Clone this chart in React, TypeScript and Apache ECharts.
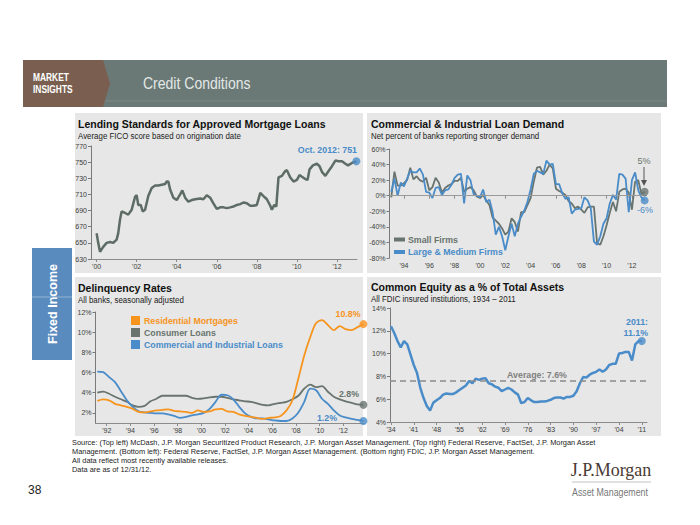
import React, { useEffect, useRef } from 'react';
import * as echarts from 'echarts';

// ---------- Data ----------
// Lending standards: average FICO score (decimal year, score)
const ficoYears = [2000.0, 2000.08, 2000.17, 2000.33, 2000.5, 2000.67, 2000.83, 2001.0, 2001.08, 2001.17, 2001.25, 2001.42, 2001.58, 2001.75, 2001.92, 2002.0, 2002.08, 2002.2, 2002.3, 2002.42, 2002.58, 2002.75, 2002.92, 2003.08, 2003.25, 2003.42, 2003.5, 2003.58, 2003.67, 2003.83, 2004.0, 2004.17, 2004.28, 2004.42, 2004.58, 2004.75, 2004.92, 2005.17, 2005.33, 2005.5, 2005.67, 2005.83, 2006.0, 2006.17, 2006.33, 2006.5, 2006.67, 2006.83, 2007.0, 2007.17, 2007.33, 2007.5, 2007.67, 2007.83, 2008.0, 2008.17, 2008.33, 2008.5, 2008.67, 2008.75, 2008.87, 2008.97, 2009.08, 2009.25, 2009.42, 2009.5, 2009.67, 2009.83, 2010.0, 2010.13, 2010.25, 2010.42, 2010.53, 2010.63, 2010.8, 2011.0, 2011.13, 2011.25, 2011.42, 2011.58, 2011.75, 2011.92, 2012.08, 2012.25, 2012.42, 2012.55, 2012.75, 2012.97];
const ficoScores = [662, 650, 639, 645, 650, 651, 650, 654, 662, 679, 689, 687, 685, 691, 707, 709, 697, 697, 689, 691, 708, 718, 721, 721, 722, 723, 726, 726, 716, 706, 703, 710, 715, 706, 701, 703, 704, 705, 704, 709, 706, 699, 692, 694, 694, 693, 694, 695, 697, 698, 700, 699, 696, 696, 697, 712, 708, 704, 696, 691, 697, 695, 731, 733, 739, 740, 731, 726, 728, 734, 732, 729, 728, 741, 746, 748, 745, 738, 733, 739, 745, 752, 751, 751, 748, 746, 749, 751];
const ficoTicks = [2000, 2002, 2004, 2006, 2008, 2010, 2012];

// C&I loan demand, quarterly from cniStart
const cniStart = 1993.0;
const cniSmall = [-2, 31, 13, 13, 16, 20, 36, 21, 25, 20, 18, 23, 7, 11, 23, 17, 4, 10, 13, 15, 19, 19, 23, 5, 9, 11, 7, -1, -3, 1, -6, -12, -28, -32, -36, -42, -50, -46, -29, -34, -46, -21, -21, -12, -3, 18, 36, 37, 27, 32, 40, 35, 9, 6, 4, 1, -7, -10, -16, -14, -18, -22, -15, -14, -14, -61, -63, -52, -38, -22, -8, -20, 5, 8, 9, 4, -18, 18, 20, 2, 5];
const cniLarge = [5, 22, 0, 17, 12, 22, 32, 30, 30, 35, 27, 5, 4, -3, 10, 11, 1, 7, 8, 14, 23, 27, 28, -10, 26, 20, 2, 0, -2, 8, -8, -5, -21, -50, -40, -52, -70, -52, -36, -52, -36, -27, -19, -8, 8, 28, 32, 30, 28, 45, 40, 41, 15, 15, 3, -4, -2, -23, -18, -17, -16, -2, -6, -16, -59, -63, -52, -36, -29, -10, 1, -5, 28, 27, 22, -21, 20, 30, 7, -2, -6];
const cniTicks = [1994, 1996, 1998, 2000, 2002, 2004, 2006, 2008, 2010, 2012];

// Delinquency rates, semiannual from delStart
const delStart = 1991.2;
const delResidential = [3.2, 3.35, 3.25, 2.9, 2.75, 2.6, 2.4, 2.1, 2.05, 2.15, 2.25, 2.3, 2.35, 2.2, 2.15, 2.1, 2.0, 2.25, 2.1, 2.15, 2.35, 2.4, 2.15, 2.1, 1.85, 1.7, 1.6, 1.5, 1.4, 1.5, 1.55, 1.7, 2.25, 3.25, 5.4, 7.7, 9.5, 10.9, 11.2, 10.7, 10.2, 10.6, 10.3, 10.2, 10.5, 10.8];
const delConsumer = [4.0, 4.1, 3.9, 3.6, 3.35, 3.1, 2.75, 2.6, 2.7, 3.15, 3.4, 3.7, 3.7, 3.7, 3.7, 3.7, 3.5, 3.4, 3.45, 3.55, 3.6, 3.6, 3.5, 3.35, 3.25, 3.15, 3.1, 2.95, 2.8, 2.75, 2.9, 3.0, 3.1, 3.35, 3.7, 4.4, 4.8, 4.55, 4.65, 4.1, 3.6, 3.35, 3.15, 3.0, 2.85, 2.8];
const delCommercial = [6.1, 6.05, 5.55, 5.05, 4.15, 3.25, 2.6, 2.15, 2.05, 2.0, 1.95, 1.95, 1.85, 1.7, 1.5, 1.6, 1.75, 1.85, 2.0, 2.4, 3.1, 3.8, 3.75, 3.35, 2.6, 1.95, 1.6, 1.45, 1.45, 1.35, 1.25, 1.2, 1.2, 1.45, 2.05, 3.1, 4.4, 4.25, 3.4, 2.9, 2.25, 1.75, 1.55, 1.4, 1.3, 1.2];
const delTicks = [1992, 1994, 1996, 1998, 2000, 2002, 2004, 2006, 2008, 2010, 2012];
const delYTicks = [2, 4, 6, 8, 10, 12];

// Common equity as % of total assets, annual 1934-2011
const eqStart = 1934;
const eqValues = [12.4, 11.8, 11.1, 10.55, 11.1, 10.8, 9.9, 9.0, 8.3, 7.0, 6.1, 5.4, 5.0, 5.7, 5.9, 6.1, 6.4, 6.5, 6.45, 6.45, 6.6, 6.8, 7.0, 7.2, 7.6, 7.4, 7.8, 7.7, 7.8, 7.85, 7.4, 7.3, 7.1, 7.0, 6.7, 6.85, 7.0, 6.85, 6.6, 6.4, 5.65, 5.75, 6.1, 5.9, 5.75, 5.75, 5.8, 5.8, 5.85, 5.95, 6.1, 6.15, 6.15, 6.05, 6.2, 6.2, 6.3, 6.7, 7.4, 7.95, 7.9, 8.15, 8.3, 8.4, 8.6, 8.4, 8.6, 9.0, 9.1, 9.1, 10.0, 10.05, 10.15, 10.15, 9.4, 10.8, 11.1, 11.1];
const eqAverage = 7.6;
const eqTicks = [1934, 1941, 1948, 1955, 1962, 1969, 1976, 1983, 1990, 1997, 2004, 2011];

// ---------- Styles ----------
const FONT = "'Liberation Sans', Arial, sans-serif";
const BLUE = '#4a8cc9';
const GRAY = '#69746f';
const ORANGE = '#f7941e';
const FICO = '#5e6c66';
const PANEL = '#e6e7e6';

const yr = (v: number) => "'" + String(Math.round(v) % 100).padStart(2, '0');

function xAxisCfg(gridIndex: number, min: number, max: number, ticks: number[]) {
  return {
    type: 'value', gridIndex, min, max,
    axisLine: { show: true, lineStyle: { color: '#8c8c8c', width: 1 } },
    axisTick: { show: true, length: 3, customValues: ticks, lineStyle: { color: '#8c8c8c' } },
    axisLabel: { customValues: ticks, formatter: yr, color: '#404040', fontSize: 7, fontFamily: FONT, margin: 4 },
    splitLine: { show: false },
  };
}

function yAxisCfg(gridIndex: number, min: number, max: number, interval: number, pct: boolean, custom?: number[]) {
  const lbl: any = { color: '#404040', fontSize: 7, fontFamily: FONT, margin: 4, formatter: pct ? '{value}%' : '{value}' };
  const tick: any = { show: true, length: 3, lineStyle: { color: '#7a7a7a' } };
  if (custom) { lbl.customValues = custom; tick.customValues = custom; }
  return {
    type: 'value', gridIndex, min, max, interval,
    axisLine: { show: true, lineStyle: { color: '#7a7a7a', width: 1 } },
    axisTick: tick, axisLabel: lbl, splitLine: { show: false },
  };
}

function lineSeries(name: string, xi: number, data: number[][], color: string, width: number, extra: any = {}) {
  return { name, type: 'line', xAxisIndex: xi, yAxisIndex: xi, data, showSymbol: false, symbol: 'none', smooth: false, lineStyle: { color, width }, itemStyle: { color }, z: 3, ...extra };
}

function dotSeries(xi: number, point: number[], color: string) {
  return { type: 'scatter', xAxisIndex: xi, yAxisIndex: xi, data: [point], symbolSize: 8, itemStyle: { color }, z: 5 };
}

function txt(x: number, y: number, text: string, font: string, fill: string, align = 'left', sx = 1) {
  return { type: 'text', x, y, z: 50, scaleX: sx, style: { text, font, fill, align, verticalAlign: 'middle' } };
}

export default function App() {
  const ref = useRef<HTMLDivElement>(null);
  useEffect(() => {
    if (!ref.current) return;
    const chart = echarts.init(ref.current, undefined, { renderer: 'svg' });

    const ficoData = ficoYears.map((y, i) => [y, ficoScores[i]]);
    const smallData = cniSmall.map((v, i) => [cniStart + i * 0.25, v]);
    const largeData = cniLarge.map((v, i) => [cniStart + i * 0.25, v]);
    const resData = delResidential.map((v, i) => [delStart + i * 0.5, v]);
    const conData = delConsumer.map((v, i) => [delStart + i * 0.5, v]);
    const comData = delCommercial.map((v, i) => [delStart + i * 0.5, v]);
    const eqData = eqValues.map((v, i) => [eqStart + i, v]);
    const last = (a: number[][]) => a[a.length - 1];

    const titleFont = `bold 10.5px ${FONT}`;
    const subFont = `9.3px ${FONT}`;
    const SUBX = 0.85;
    const legFont = `bold 8.8px ${FONT}`;
    const annFont = `bold 8.8px ${FONT}`;
    const footFont = `7.4px ${FONT}`;

    const graphic: any[] = [
      // header band
      { type: 'rect', z: -10, shape: { x: 23, y: 60, width: 644, height: 47 }, style: { fill: '#6b7976' } },
      { type: 'line', z: -9, shape: { x1: 23, y1: 101, x2: 667, y2: 101 }, style: { stroke: 'rgba(255,255,255,0.12)', lineWidth: 1 } },
      { type: 'polygon', z: -8, shape: { points: [[23, 60], [103, 60], [110, 83.5], [103, 107], [23, 107]] }, style: { fill: '#7a5f50' } },
      txt(33, 77, 'MARKET', `bold 10.5px ${FONT}`, '#ffffff', 'left', 0.8),
      txt(33, 89, 'INSIGHTS', `bold 10.5px ${FONT}`, '#ffffff', 'left', 0.8),
      txt(143, 83, 'Credit Conditions', `16.5px ${FONT}`, '#e2e8e6', 'left', 0.85),
      // panels
      { type: 'rect', z: -10, shape: { x: 75, y: 113, width: 288, height: 160 }, style: { fill: PANEL } },
      { type: 'rect', z: -10, shape: { x: 367, y: 113, width: 294, height: 160 }, style: { fill: PANEL } },
      { type: 'rect', z: -10, shape: { x: 75, y: 277, width: 288, height: 159 }, style: { fill: PANEL } },
      { type: 'rect', z: -10, shape: { x: 367, y: 277, width: 294, height: 159 }, style: { fill: PANEL } },
      // fixed income tab
      { type: 'rect', z: -10, shape: { x: 32, y: 248, width: 40, height: 112 }, style: { fill: '#5a8bbf' } },
      { type: 'line', z: -9, shape: { x1: 32, y1: 297, x2: 72, y2: 297 }, style: { stroke: 'rgba(255,255,255,0.35)', lineWidth: 1 } },
      { type: 'text', x: 53, y: 304, rotation: Math.PI / 2, z: 50, style: { text: 'Fixed Income', font: `bold 12.5px ${FONT}`, fill: '#ffffff', align: 'center', verticalAlign: 'middle' } },
      // titles
      txt(78, 124, 'Lending Standards for Approved Mortgage Loans', titleFont, '#111'),
      txt(78, 136, 'Average FICO score based on origination date', subFont, '#222', 'left', SUBX),
      txt(371, 124, 'Commercial & Industrial Loan Demand', titleFont, '#111'),
      txt(371, 136, 'Net percent of banks reporting stronger demand', subFont, '#222', 'left', SUBX),
      txt(78, 288, 'Delinquency Rates', titleFont, '#111'),
      txt(78, 299.5, 'All banks, seasonally adjusted', subFont, '#222', 'left', SUBX),
      txt(371, 287, 'Common Equity as a % of Total Assets', titleFont, '#111'),
      txt(371, 298.5, 'All FDIC insured institutions, 1934 \u2013 2011', subFont, '#222', 'left', SUBX),
      // top-left annotation
      txt(357, 150, 'Oct. 2012: 751', annFont, BLUE, 'right'),
      // top-right legend & annotations
      { type: 'rect', z: 50, shape: { x: 394, y: 237.5, width: 11, height: 4 }, style: { fill: GRAY } },
      txt(408, 239.5, 'Small Firms', legFont, GRAY),
      { type: 'rect', z: 50, shape: { x: 394, y: 250, width: 11, height: 4 }, style: { fill: BLUE } },
      txt(408, 252, 'Large & Medium Firms', legFont, BLUE),
      txt(644, 161, '5%', `9px ${FONT}`, GRAY, 'center'),
      { type: 'line', z: 50, shape: { x1: 644, y1: 167, x2: 644, y2: 181 }, style: { stroke: '#555', lineWidth: 1 } },
      { type: 'polygon', z: 50, shape: { points: [[641, 180], [647, 180], [644, 186]] }, style: { fill: '#555' } },
      txt(645, 210, '-6%', `9px ${FONT}`, BLUE, 'center'),
      // bottom-left legend & annotations
      { type: 'rect', z: 50, shape: { x: 131, y: 316, width: 9, height: 9 }, style: { fill: ORANGE } },
      txt(144, 321, 'Residential Mortgages', legFont, ORANGE),
      { type: 'rect', z: 50, shape: { x: 131, y: 328, width: 9, height: 9 }, style: { fill: GRAY } },
      txt(144, 333, 'Consumer Loans', legFont, GRAY),
      { type: 'rect', z: 50, shape: { x: 131, y: 340, width: 9, height: 9 }, style: { fill: BLUE } },
      txt(144, 345, 'Commercial and Industrial Loans', legFont, BLUE),
      txt(348, 314, '10.8%', annFont, ORANGE, 'center'),
      txt(349, 394, '2.8%', annFont, GRAY, 'center'),
      txt(327, 418, '1.2%', annFont, BLUE, 'center'),
      // bottom-right annotations
      txt(537, 375, 'Average: 7.6%', annFont, '#808080', 'center'),
      txt(648, 322, '2011:', annFont, BLUE, 'right'),
      txt(648, 333, '11.1%', annFont, BLUE, 'right'),
      // footer
      txt(72, 442, 'Source: (Top left) McDash, J.P. Morgan Securitized Product Research, J.P. Morgan Asset Management. (Top right) Federal Reserve, FactSet, J.P. Morgan Asset', footFont, '#222'),
      txt(72, 451, 'Management. (Bottom left): Federal Reserve, FactSet, J.P. Morgan Asset Management. (Bottom right) FDIC, J.P. Morgan Asset Management.', footFont, '#222'),
      txt(72, 460, 'All data reflect most recently available releases.', footFont, '#222'),
      txt(72, 469, 'Data are as of 12/31/12.', footFont, '#222'),
      txt(28, 490, '38', `12px ${FONT}`, '#222'),
      txt(611, 470, 'J.P.Morgan', `18px 'Liberation Serif', 'Times New Roman', serif`, '#4a3a33', 'center'),
      { type: 'line', z: 50, shape: { x1: 572, y1: 482, x2: 651, y2: 482 }, style: { stroke: '#9a9a9a', lineWidth: 0.6 } },
      { type: 'text', x: 572, y: 492, z: 50, scaleX: 0.84, style: { text: 'Asset Management', font: `10.5px ${FONT}`, fill: '#777', align: 'left', verticalAlign: 'middle' } },
    ];

    chart.setOption({
      animation: false,
      grid: [
        { left: 91, top: 146, width: 266, height: 113 },
        { left: 389.5, top: 149, width: 257, height: 109 },
        { left: 95.5, top: 312, width: 268.5, height: 111 },
        { left: 390, top: 308, width: 257, height: 114 },
      ],
      xAxis: [
        xAxisCfg(0, 1999.72, 2013.0, ficoTicks),
        xAxisCfg(1, 1992.86, 2013.15, cniTicks),
        xAxisCfg(2, 1991.05, 2013.75, delTicks),
        xAxisCfg(3, 1933.7, 2012.6, eqTicks),
      ],
      yAxis: [
        yAxisCfg(0, 630, 770, 20, false),
        yAxisCfg(1, -80, 60, 20, true),
        yAxisCfg(2, 1, 12, 1, true, delYTicks),
        yAxisCfg(3, 4, 14, 2, true),
      ],
      series: [
        lineSeries('FICO', 0, ficoData, FICO, 2.5),
        dotSeries(0, last(ficoData), BLUE),
        lineSeries('Small Firms', 1, smallData, GRAY, 1.8, {
          markLine: { silent: true, symbol: 'none', label: { show: false }, lineStyle: { color: '#9a9a9a', width: 1, type: 'solid' }, data: [{ yAxis: 0 }] },
        }),
        lineSeries('Large & Medium Firms', 1, largeData, BLUE, 1.8),
        dotSeries(1, last(smallData), GRAY),
        dotSeries(1, last(largeData), BLUE),
        lineSeries('Consumer Loans', 2, conData, GRAY, 1.8, { smooth: 0.3 }),
        lineSeries('Commercial and Industrial Loans', 2, comData, BLUE, 1.8, { smooth: 0.3 }),
        lineSeries('Residential Mortgages', 2, resData, ORANGE, 1.8, { smooth: 0.3 }),
        dotSeries(2, last(resData), ORANGE),
        dotSeries(2, last(conData), GRAY),
        dotSeries(2, last(comData), BLUE),
        lineSeries('Common Equity', 3, eqData, BLUE, 2.5, {
          markLine: { silent: true, symbol: 'none', label: { show: false }, lineStyle: { color: '#8a8a8a', width: 1.5, type: [6, 4] }, data: [{ yAxis: eqAverage }] },
        }),
        dotSeries(3, last(eqData), BLUE),
      ],
      graphic,
    });
    return () => chart.dispose();
  }, []);
  return <div ref={ref} style={{ position: 'fixed', left: 0, top: 0, width: 700, height: 525, background: '#fff' }} />;
}
